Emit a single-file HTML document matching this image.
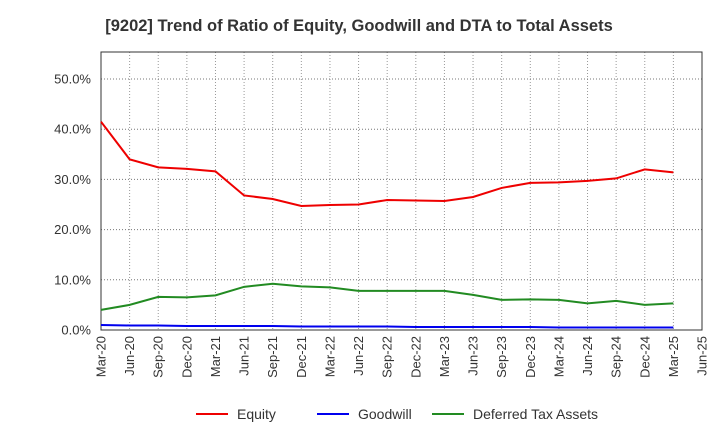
<!DOCTYPE html>
<html><head><meta charset="utf-8"><style>
body{margin:0;background:#fff;font-family:"Liberation Sans",sans-serif;}
svg text{font-family:"Liberation Sans",sans-serif;}
</style></head><body>
<svg id="c" width="720" height="440">
<text x="359" y="31" text-anchor="middle" font-size="16.5" font-weight="bold" fill="#333">[9202]  Trend of Ratio of Equity, Goodwill and DTA to Total Assets</text>
</svg>
<script>
const categories=["Mar-20","Jun-20","Sep-20","Dec-20","Mar-21","Jun-21","Sep-21","Dec-21","Mar-22","Jun-22","Sep-22","Dec-22","Mar-23","Jun-23","Sep-23","Dec-23","Mar-24","Jun-24","Sep-24","Dec-24","Mar-25","Jun-25"];
const equity=[41.5,34,32.4,32.1,31.6,26.8,26.1,24.7,24.9,25,25.9,25.8,25.7,26.5,28.3,29.3,29.4,29.7,30.2,32,31.4];
const goodwill=[1.0,0.9,0.9,0.8,0.8,0.8,0.8,0.7,0.7,0.7,0.7,0.6,0.6,0.6,0.6,0.6,0.5,0.5,0.5,0.5,0.5];
const dta=[4.0,5.0,6.6,6.5,6.9,8.6,9.2,8.7,8.5,7.8,7.8,7.8,7.8,7.0,6.0,6.1,6.0,5.3,5.8,5.0,5.3];
const yTicks=[0,10,20,30,40,50];
const NS="http://www.w3.org/2000/svg";
const svg=document.getElementById('c');
const L=101,R=702,T=52,B=330;
const x=i=>L+i*(R-L)/(categories.length-1);
const y=v=>B-v*(B-79)/50;
function mk(t,a){const e=document.createElementNS(NS,t);for(const k in a)e.setAttribute(k,a[k]);svg.appendChild(e);return e;}
const bg=mk('rect',{x:L,y:T,width:R-L,height:B-T,fill:'#fff',stroke:'none'});


categories.forEach((c,i)=>{const g=mk('line',{x1:x(i),x2:x(i),y1:T,y2:B,stroke:'#999','stroke-dasharray':'1,2','stroke-width':1});


const t=mk('text',{x:0,y:0,'font-size':13,fill:'#333','text-anchor':'end',transform:`translate(${x(i)+4.5},${B+6}) rotate(-90)`});t.textContent=c;

});
yTicks.forEach(v=>{const g=mk('line',{x1:L,x2:R,y1:y(v),y2:y(v),stroke:'#777','stroke-dasharray':'1,2','stroke-width':1});


const t=mk('text',{x:L-10,y:y(v)+4.5,'font-size':13,fill:'#333','text-anchor':'end'});t.textContent=v.toFixed(1)+'%';

});
const fr=mk('rect',{x:L,y:T,width:R-L,height:B-T,fill:'none',stroke:'#333'});


function line(d,col,name){const p=mk('polyline',{points:d.map((v,i)=>x(i)+','+y(v)).join(' '),fill:'none',stroke:col,'stroke-width':2});

}
line(equity,'#e00','equity-line');line(goodwill,'#00e','goodwill-line');line(dta,'#228B22','dta-line');
const leg=[['Equity','#e00',196],['Goodwill','#00e',317],['Deferred Tax Assets','#228B22',432]];
leg.forEach(([n,c,lx])=>{const l=mk('line',{x1:lx,x2:lx+32,y1:414,y2:414,stroke:c,'stroke-width':2});


const t=mk('text',{x:lx+41,y:419,'font-size':14,fill:'#333'});t.textContent=n;

});
</script>
</body></html>
